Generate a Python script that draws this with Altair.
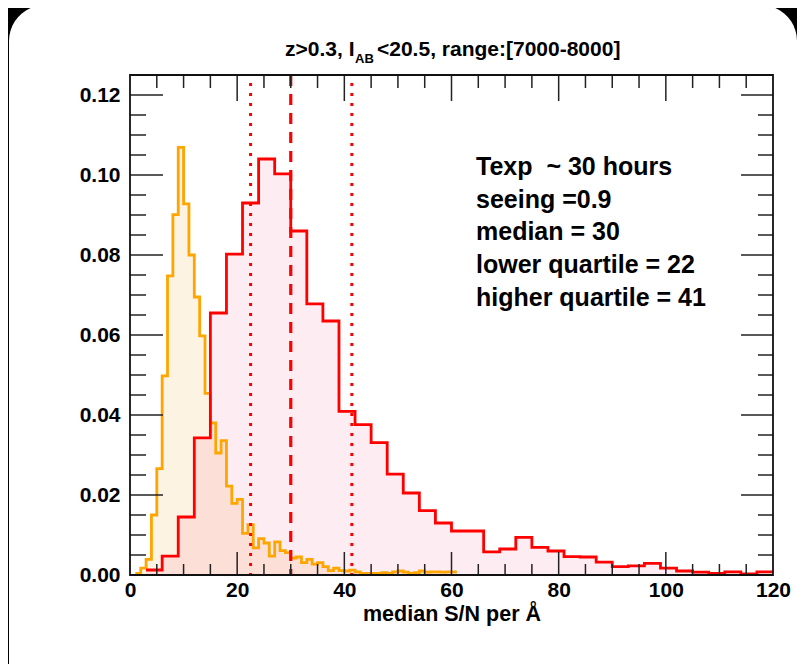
import altair as alt
import pandas as pd

# ---------------- data ----------------
# red histogram: bins of width 3 starting at 3
red_left = list(range(3, 120, 3))
red_values = [0.00125, 0.0047, 0.0145, 0.0343, 0.0655, 0.0802, 0.0930, 0.1040,
              0.1003, 0.0860, 0.0678, 0.0635, 0.0409, 0.0376, 0.0331, 0.0252,
              0.0205, 0.0161, 0.0130, 0.0110, 0.0110, 0.0058, 0.0065, 0.0094,
              0.0069, 0.0060, 0.0046, 0.0045, 0.0032, 0.0021, 0.0023, 0.0029,
              0.0017, 0.0010, 0.0007, 0.0004, 0.0008, 0.0003, 0.0008]
red_width = 3

# orange histogram: bins of width 1 starting at 1
orange_left = list(range(1, 61))
orange_values = [0.0004, 0.0017, 0.0039, 0.0150, 0.0266, 0.0498, 0.0748, 0.0901,
                 0.1069, 0.0928, 0.0800, 0.0695, 0.0598, 0.0454, 0.0380, 0.0305,
                 0.0336, 0.0222, 0.0179, 0.0189, 0.0104, 0.0126, 0.0068, 0.0091,
                 0.0080, 0.0047, 0.0083, 0.0061, 0.0056, 0.0042, 0.0045, 0.0031,
                 0.0039, 0.0027, 0.0031, 0.0021, 0.0011, 0.0017, 0.0011, 0.0010,
                 0.0012, 0.0008, 0.0004, 0.0004, 0.0004, 0.0004, 0.0006, 0.0004,
                 0.0008, 0.0010, 0.0007, 0.0004, 0.0006, 0.0010, 0.0007, 0.0008,
                 0.0008, 0.0007, 0.0008, 0.0008]
orange_width = 1

median_line = [30]
quartile_lines = [22.5, 41.4]

x_label_values = [0, 20, 40, 60, 80, 100, 120]
y_label_values = [0.0, 0.02, 0.04, 0.06, 0.08, 0.10, 0.12]
x_minor_ticks = [5, 10, 15, 25, 30, 35, 45, 50, 55, 65, 70, 75, 85, 90, 95, 105, 110, 115]
x_major_ticks = [20, 40, 60, 80, 100]
y_minor_ticks = [0.005, 0.01, 0.015, 0.025, 0.03, 0.035, 0.045, 0.05, 0.055,
                 0.065, 0.07, 0.075, 0.085, 0.09, 0.095, 0.105, 0.11, 0.115]
y_major_ticks = [0.02, 0.04, 0.06, 0.08, 0.10, 0.12]

title_parts = ["z>0.3, I", "AB", "<20.5, range:[7000-8000]"]
annotation_lines = ["Texp\u00a0 ~ 30 hours", "seeing =0.9", "median = 30",
                    "lower quartile = 22", "higher quartile = 41"]
x_title = "median S/N per Å"

# ---------------- layout ----------------
W, H = 643, 500
FONT = "Liberation Sans"


def step_frame(left, values, width):
    xs_ = list(left) + [left[-1] + width]
    ys_ = list(values) + [values[-1]]
    return pd.DataFrame({"x": xs_, "y": ys_})


red_df = step_frame(red_left, red_values, red_width)
orange_df = step_frame(orange_left, orange_values, orange_width)

xs = alt.Scale(domain=[0, 120], nice=False, zero=False)
ys = alt.Scale(domain=[0, 0.125], nice=False, zero=True)

x_axis = alt.Axis(values=x_label_values, ticks=False, domain=False, grid=False,
                  labelFont=FONT, labelFontWeight="bold", labelFontSize=21,
                  labelColor="black", labelPadding=4, labelFlush=False,
                  title=x_title, titleFont=FONT, titleFontWeight="bold",
                  titleFontSize=21.5, titleColor="black", titlePadding=3, zindex=2)
y_axis = alt.Axis(values=y_label_values, format=".2f", ticks=False, domain=False,
                  grid=False, labelFont=FONT, labelFontWeight="bold",
                  labelFontSize=21, labelColor="black", labelPadding=10,
                  title=None, zindex=2)


def X(field):
    return alt.X(field, scale=xs, axis=x_axis)


def Y(field):
    return alt.Y(field, scale=ys, axis=y_axis)


# white rounded panel on the black page
panel = alt.Chart(pd.DataFrame({"a": [0]})).mark_rect(
    color="white", cornerRadius=36
).encode(x=alt.value(-121), x2=alt.value(667), y=alt.value(-70), y2=alt.value(650))

orange_area = alt.Chart(orange_df).mark_area(
    interpolate="step-after", color="#fdf3e2", opacity=1
).encode(x=X("x:Q"), y=Y("y:Q"))
red_area = alt.Chart(red_df).mark_area(
    interpolate="step-after", color="#f00064", opacity=0.075
).encode(x=X("x:Q"), y=Y("y:Q"))
orange_line = alt.Chart(orange_df).mark_line(
    interpolate="step-after", color="#ffa500", strokeWidth=2.8
).encode(x=X("x:Q"), y=Y("y:Q"))
red_line = alt.Chart(red_df).mark_line(
    interpolate="step-after", color="#ff0000", strokeWidth=2.8
).encode(x=X("x:Q"), y=Y("y:Q"))

median_rule = alt.Chart(pd.DataFrame({"x": median_line})).mark_rule(
    color="#ff0000", strokeWidth=3.2, strokeDash=[11, 8]
).encode(x=X("x:Q"), y=alt.value(0), y2=alt.value(H))
quart_rule = alt.Chart(pd.DataFrame({"x": quartile_lines})).mark_rule(
    color="#ff0000", strokeWidth=3.0, strokeDash=[3, 7]
).encode(x=X("x:Q"), y=alt.value(8), y2=alt.value(H))


def xticks(vals, y0, y1):
    return alt.Chart(pd.DataFrame({"x": vals})).mark_rule(
        color="#222222", strokeWidth=1.5
    ).encode(x=X("x:Q"), y=alt.value(y0), y2=alt.value(y1))


def yticks(vals, x0, x1):
    return alt.Chart(pd.DataFrame({"y": vals})).mark_rule(
        color="#222222", strokeWidth=1.5
    ).encode(y=Y("y:Q"), x=alt.value(x0), x2=alt.value(x1))


tick_layers = [
    xticks(x_minor_ticks, H, H - 11), xticks(x_major_ticks, H, H - 23),
    xticks(x_minor_ticks, 0, 13), xticks(x_major_ticks, 0, 26),
    yticks(y_minor_ticks, 0, 16), yticks(y_major_ticks, 0, 33),
    yticks(y_minor_ticks, W, W - 15), yticks(y_major_ticks, W, W - 32),
]

frame = alt.Chart(pd.DataFrame({"a": [0]})).mark_rect(
    fillOpacity=0, stroke="#111111", strokeWidth=1.8
).encode(x=alt.value(0), x2=alt.value(W), y=alt.value(0), y2=alt.value(H))


def text_layer(txt, x, y, size, align="left"):
    return alt.Chart(pd.DataFrame({"t": [txt]})).mark_text(
        font=FONT, fontWeight="bold", fontSize=size, color="black",
        align=align, baseline="alphabetic"
    ).encode(text="t:N", x=alt.value(x), y=alt.value(y))


title_layers = [
    text_layer(title_parts[0], 224.5, -19, 21, align="right"),
    text_layer(title_parts[1], 225, -12, 13),
    text_layer(title_parts[2], 247, -19, 21),
]

ann_y = [100, 132.5, 165, 197.5, 231]
ann_layers = [text_layer(t, 346, yy, 25) for t, yy in zip(annotation_lines, ann_y)]

chart = alt.layer(
    panel, orange_area, red_area, orange_line, red_line,
    median_rule, quart_rule, *tick_layers, frame, *title_layers, *ann_layers
).properties(
    width=W, height=H,
    autosize=alt.AutoSizeParams(type="none"),
    padding={"left": 122, "top": 67, "right": 24, "bottom": 89},
).configure(background="black").configure_view(strokeWidth=0)

chart.save("out.html", embed_options={"renderer": "svg", "actions": False})
